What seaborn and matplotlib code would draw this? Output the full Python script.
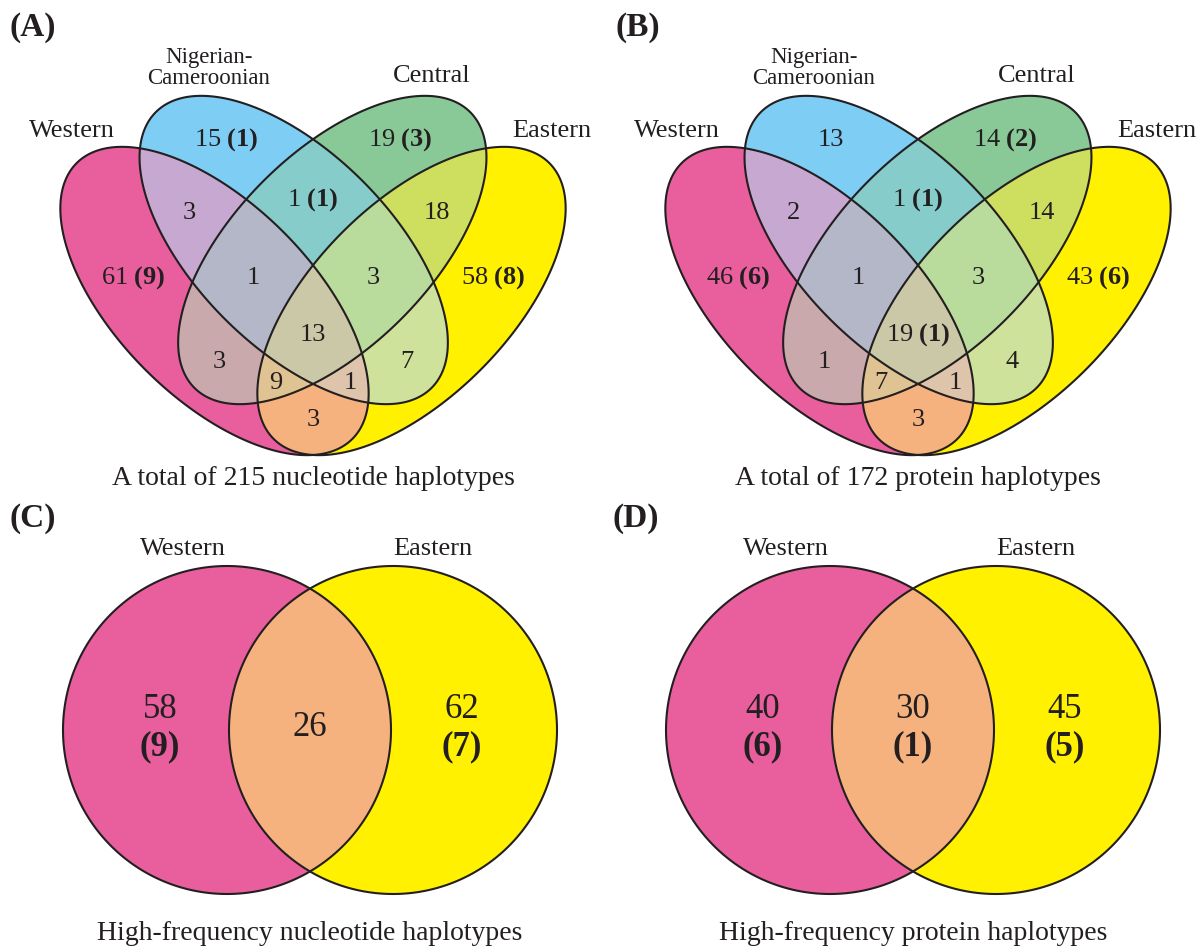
import numpy as np
import matplotlib
matplotlib.use("Agg")
import matplotlib.pyplot as plt
import seaborn as sns
from matplotlib.patches import Polygon

# ---------------- data ----------------
set_labels4 = ["Western", "Nigerian-\nCameroonian", "Central", "Eastern"]
region_keys = ["W", "N", "C", "E", "WN", "NC", "CE", "WNC", "NCE", "WNCE",
               "WC", "NE", "WCE", "WNE", "WE"]
nuc_counts = [61, 15, 19, 58, 3, 1, 18, 1, 3, 13, 3, 7, 9, 1, 3]
nuc_bold = [9, 1, 3, 8, None, 1, None, None, None, None, None, None, None, None, None]
prot_counts = [46, 13, 14, 43, 2, 1, 14, 1, 3, 19, 1, 4, 7, 1, 3]
prot_bold = [6, None, 2, 6, None, 1, None, None, None, 1, None, None, None, None, None]
region_colors = ["#E95E9C", "#7DCDF4", "#89C997", "#FFF100",
                 "#C6A8D0", "#85CCCB", "#CEDE5E", "#B4B7C7", "#B9DC9C", "#CBC8A8",
                 "#C9A9AC", "#CEE29C", "#E0C392", "#DEC4AB", "#F6B27E"]

set_labels2 = ["Western", "Eastern"]
hf_nuc = [58, 26, 62]          # Western only, shared, Eastern only
hf_nuc_bold = [9, None, 7]
hf_prot = [40, 30, 45]
hf_prot_bold = [6, 1, 5]
colors2 = {"W": "#E95E9C", "E": "#FFF100", "WE": "#F6B27E"}

titles = ["A total of 215 nucleotide haplotypes", "A total of 172 protein haplotypes",
          "High-frequency nucleotide haplotypes", "High-frequency protein haplotypes"]
tags = ["(A)", "(B)", "(C)", "(D)"]

# ---------------- style ----------------
sns.set_theme(style="white")
plt.rcParams["font.family"] = ["Liberation Serif", "DejaVu Serif"]
plt.rcParams["mathtext.fontset"] = "custom"
plt.rcParams["mathtext.rm"] = "Liberation Serif"
plt.rcParams["mathtext.bf"] = "Liberation Serif:bold"
plt.rcParams["mathtext.it"] = "Liberation Serif:italic"
INK = "#231F20"
LW = 1.5

# ---------------- layout (pixel coordinates, y down) ----------------
ELL = {"W": (-98.5, 301, 195, 97.5, 45),
       "N": (-19.3, 250, 195, 97.5, 45),
       "C": (19.3, 250, 195, 97.5, -45),
       "E": (98.5, 301, 195, 97.5, -45)}
LABEL_POS = {"W": (-180, 278), "N": (-87, 140), "C": (87, 140), "E": (180, 278),
             "WN": (-124, 213), "NC": (0, 200), "CE": (124, 213),
             "WNC": (-60, 278), "NCE": (60, 278), "WNCE": (0, 335),
             "WC": (-94, 362), "NE": (94, 362), "WCE": (-37, 383), "WNE": (37, 383),
             "WE": (0, 420)}
SET_POS4 = [(-241, 131), (-104, 68), (119, 76), (239, 131)]
SET_SIZE4 = [19, 16.5, 19, 19]


def shoelace(P):
    x, y = P[:, 0], P[:, 1]
    return 0.5 * np.sum(x * np.roll(y, -1) - np.roll(x, -1) * y)


def ellipse_pts(cx, cy, a, b, th, n=300):
    t = np.linspace(0, 2 * np.pi, n, endpoint=False)
    th = np.deg2rad(th)
    x = cx + a * np.cos(t) * np.cos(th) - b * np.sin(t) * np.sin(th)
    y = cy + a * np.cos(t) * np.sin(th) + b * np.sin(t) * np.cos(th)
    P = np.column_stack([x, y])
    if shoelace(P) < 0:
        P = P[::-1]
    return P


def clip(subj, clipper):
    out = [tuple(p) for p in subj]
    n = len(clipper)
    for i in range(n):
        ax_, ay_ = clipper[i - 1]
        bx, by = clipper[i]
        inp = out
        out = []
        if not inp:
            break

        def side(p):
            return (bx - ax_) * (p[1] - ay_) - (by - ay_) * (p[0] - ax_)

        s = inp[-1]
        ss = side(s)
        for e in inp:
            se = side(e)
            if se >= 0:
                if ss < 0:
                    t = ss / (ss - se)
                    out.append((s[0] + t * (e[0] - s[0]), s[1] + t * (e[1] - s[1])))
                out.append(e)
            elif ss >= 0:
                t = ss / (ss - se)
                out.append((s[0] + t * (e[0] - s[0]), s[1] + t * (e[1] - s[1])))
            s, ss = e, se
    return np.array(out)


base = {k: ellipse_pts(v[0], v[1], v[2], v[3], v[4]) for k, v in ELL.items()}
region_polys = {}
for key in region_keys:
    poly = base[key[0]]
    for k in key[1:]:
        poly = clip(poly, base[k])
    region_polys[key] = poly
paint_order = sorted(range(len(region_keys)), key=lambda i: len(region_keys[i]))

fig = plt.figure(figsize=(12.01, 9.49), dpi=100)
ax = fig.add_axes([0, 0, 1, 1])
ax.set_xlim(0, 1201)
ax.set_ylim(949, 0)
ax.axis("off")


def count_text(n, b):
    if b is None:
        return f"{n}"
    return f"{n} " + r"$\mathbf{(" + str(b) + r")}$"


def draw_four(x0, counts, bold, title, tag):
    for i in paint_order:
        key = region_keys[i]
        P = region_polys[key].copy()
        P[:, 0] += x0
        ax.add_patch(Polygon(P, closed=True, facecolor=region_colors[i],
                             edgecolor="none", zorder=1 + len(key)))
    for k in ["W", "N", "C", "E"]:
        P = base[k].copy()
        P[:, 0] += x0
        ax.add_patch(Polygon(P, closed=True, fill=False, edgecolor=INK,
                             lw=LW, zorder=10))
    for i, key in enumerate(region_keys):
        dx, y = LABEL_POS[key]
        ax.text(x0 + dx, y, count_text(counts[i], bold[i]), ha="center",
                va="center", fontsize=19, color=INK, zorder=20)
    for lab, (dx, y), fs in zip(set_labels4, SET_POS4, SET_SIZE4):
        ax.text(x0 + dx, y, lab, ha="center", va="center", fontsize=fs,
                color=INK, linespacing=0.95, zorder=20)
    ax.text(x0, 478, title, ha="center", va="center", fontsize=20, color=INK)
    ax.text(x0 - 280, 27, tag, ha="center", va="center", fontsize=24,
            fontweight="bold", color=INK)


def draw_two(x0, vals, bold, title, tag):
    r = 164
    cy = 730
    left = ellipse_pts(x0 - 83, cy, r, r, 0)
    right = ellipse_pts(x0 + 83, cy, r, r, 0)
    inter = clip(left, right)
    for P, c in zip([left, right, inter], [colors2["W"], colors2["E"], colors2["WE"]]):
        ax.add_patch(Polygon(P, closed=True, facecolor=c, edgecolor="none", zorder=2))
    for P in [left, right]:
        ax.add_patch(Polygon(P, closed=True, fill=False, edgecolor=INK, lw=LW, zorder=10))
    xs = [x0 - 150, x0, x0 + 152]
    for x, v, b in zip(xs, vals, bold):
        if b is None:
            ax.text(x, 728, f"{v}", ha="center", va="center", fontsize=25, color=INK, zorder=20)
        else:
            ax.text(x, 710, f"{v}", ha="center", va="center", fontsize=25, color=INK, zorder=20)
            ax.text(x, 747, f"({b})", ha="center", va="center", fontsize=25,
                    fontweight="bold", color=INK, zorder=20)
    ax.text(x0 - 127, 549, set_labels2[0], ha="center", va="center", fontsize=19, color=INK)
    ax.text(x0 + 123, 549, set_labels2[1], ha="center", va="center", fontsize=19, color=INK)
    ax.text(x0, 933, title, ha="center", va="center", fontsize=20, color=INK)
    ax.text(x0 - 277, 518, tag, ha="center", va="center", fontsize=24,
            fontweight="bold", color=INK)


draw_four(313, nuc_counts, nuc_bold, titles[0], tags[0])
draw_four(918, prot_counts, prot_bold, titles[1], tags[1])
draw_two(310, hf_nuc, hf_nuc_bold, titles[2], tags[2])
draw_two(913, hf_prot, hf_prot_bold, titles[3], tags[3])

fig.savefig("out.png", dpi=100, facecolor="white")
